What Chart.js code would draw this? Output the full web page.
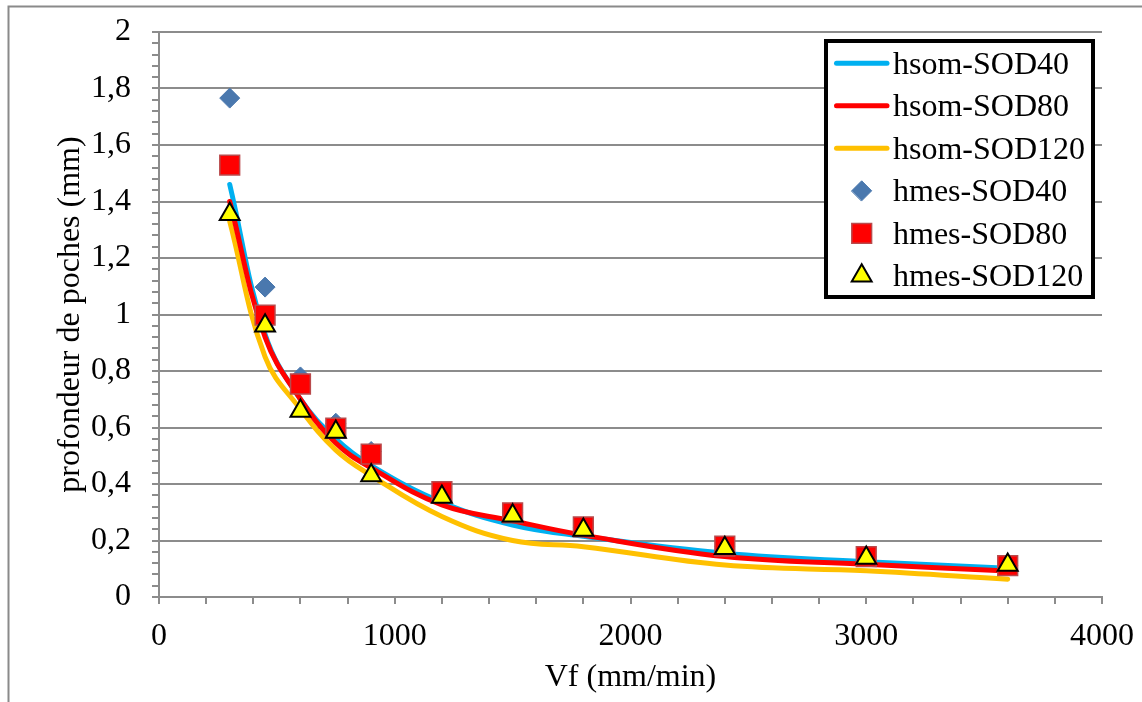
<!DOCTYPE html>
<html>
<head>
<meta charset="utf-8">
<script src="https://cdn.jsdelivr.net/npm/chart.js@4.4.1/dist/chart.umd.min.js"></script>
<style>
  html, body { margin: 0; padding: 0; background: #fff; }
  #wrap { position: relative; width: 1142px; height: 702px; overflow: hidden; }
  canvas { display: block; }
</style>
</head>
<body>
<div id="wrap"><canvas id="c" width="1142" height="702"></canvas></div>
<script>
// ---- data ----
const vf = [300, 450, 600, 750, 900, 1200, 1500, 1800, 2400, 3000, 3600];

const hsomSOD40  = [1.46, 0.93, 0.70, 0.56, 0.465, 0.335, 0.255, 0.215, 0.155, 0.125, 0.102];
const hsomSOD80  = [1.40, 0.92, 0.70, 0.545, 0.457, 0.326, 0.27, 0.219, 0.143, 0.116, 0.092];
const hsomSOD120 = [1.33, 0.85, 0.665, 0.52, 0.43, 0.285, 0.20, 0.178, 0.113, 0.093, 0.063];

const hmesSOD40  = [1.766, 1.097, 0.779, 0.615, 0.515, 0.372, 0.300, 0.245, 0.180, 0.142, 0.111];
const hmesSOD80  = [1.529, 0.998, 0.754, 0.598, 0.506, 0.373, 0.298, 0.248, 0.180, 0.143, 0.111];
const hmesSOD120 = [1.355, 0.960, 0.658, 0.584, 0.430, 0.354, 0.288, 0.237, 0.173, 0.138, 0.113];

const seriesLabels = ['hsom-SOD40', 'hsom-SOD80', 'hsom-SOD120', 'hmes-SOD40', 'hmes-SOD80', 'hmes-SOD120'];
const xTitle = 'Vf (mm/min)';
const yTitle = 'profondeur de poches (mm)';

const xMin = 0, xMax = 4000, xMajor = 1000, xMinor = 200;
const yMin = 0, yMax = 2, yMajor = 0.2, yMinor = 0.04;

function pts(ys) { return vf.map((x, i) => ({ x: x, y: ys[i] })); }
function isMult(v, step) { const r = v / step; return Math.abs(r - Math.round(r)) < 1e-6; }

const FONT = "'Liberation Serif', 'Times New Roman', serif";
const FS = 32;
const GRID = '#8c8c8c';

const datasets = [
  { label: seriesLabels[0], data: pts(hsomSOD40), showLine: true, borderColor: '#00b0f0', backgroundColor: '#00b0f0',
    borderWidth: 5, pointRadius: 0, tension: 0.4, order: 5, borderCapStyle: 'round', _kind: 'line' },
  { label: seriesLabels[1], data: pts(hsomSOD80), showLine: true, borderColor: '#ff0000', backgroundColor: '#ff0000',
    borderWidth: 5, pointRadius: 0, tension: 0.4, order: 3, borderCapStyle: 'round', _kind: 'line' },
  { label: seriesLabels[2], data: pts(hsomSOD120), showLine: true, borderColor: '#ffc000', backgroundColor: '#ffc000',
    borderWidth: 5, pointRadius: 0, tension: 0.4, order: 4, borderCapStyle: 'round', _kind: 'line' },
  { label: seriesLabels[3], data: pts(hmesSOD40), showLine: false, pointStyle: 'rectRot', pointRadius: 10,
    backgroundColor: '#4a78ae', borderColor: '#4a78ae', pointBorderWidth: 1, order: 2, _kind: 'point' },
  { label: seriesLabels[4], data: pts(hmesSOD80), showLine: false, pointStyle: 'rect', pointRadius: 14,
    backgroundColor: '#ff0000', borderColor: '#b94a4c', pointBorderWidth: 1.5, order: 1, _kind: 'point' },
  { label: seriesLabels[5], data: pts(hmesSOD120), showLine: false, pointStyle: 'triangle', pointRadius: 11.5,
    backgroundColor: '#ffff00', borderColor: '#000000', pointBorderWidth: 2, order: 0, _kind: 'point' }
];

// outer frame of the chart object
const framePlugin = {
  id: 'frame',
  beforeDraw(chart) {
    const ctx = chart.ctx;
    ctx.save();
    ctx.fillStyle = '#fff';
    ctx.fillRect(0, 0, chart.width, chart.height);
    ctx.strokeStyle = '#8a8a8a';
    ctx.lineWidth = 2;
    ctx.strokeRect(8.5, 6.5, 1400, 1000);
    ctx.restore();
  }
};

// boxed legend inside the plot, built from the datasets
const boxLegend = {
  id: 'boxLegend',
  afterDraw(chart) {
    const ctx = chart.ctx;
    const bx = 826, by = 41, bw = 267, bh = 256;
    ctx.save();
    ctx.fillStyle = '#fff';
    ctx.fillRect(bx, by, bw, bh);
    ctx.lineWidth = 4;
    ctx.strokeStyle = '#000';
    ctx.strokeRect(bx, by, bw, bh);
    chart.data.datasets.forEach((ds, i) => {
      const cy = 63.3 + i * 42.5;
      if (ds._kind === 'line') {
        ctx.beginPath();
        ctx.lineCap = 'round';
        ctx.lineWidth = ds.borderWidth;
        ctx.strokeStyle = ds.borderColor;
        ctx.moveTo(836.5, cy);
        ctx.lineTo(887, cy);
        ctx.stroke();
      } else {
        ctx.fillStyle = ds.backgroundColor;
        ctx.strokeStyle = ds.borderColor;
        ctx.lineWidth = ds.pointBorderWidth;
        Chart.helpers.drawPoint(ctx, { pointStyle: ds.pointStyle, radius: ds.pointRadius, borderWidth: ds.pointBorderWidth, rotation: 0 }, 861.7, cy);
      }
      ctx.fillStyle = '#000';
      ctx.font = FS + 'px ' + FONT;
      ctx.textBaseline = 'alphabetic';
      ctx.textAlign = 'left';
      ctx.fillText(ds.label, 893, cy + 10.2);
    });
    ctx.restore();
  }
};

new Chart(document.getElementById('c'), {
  type: 'scatter',
  data: { datasets: datasets },
  plugins: [framePlugin, boxLegend],
  options: {
    responsive: false,
    animation: false,
    devicePixelRatio: 1,
    layout: { padding: { top: 32, right: 40, bottom: 0, left: 0 } },
    plugins: { legend: { display: false }, tooltip: { enabled: false } },
    events: [],
    font: { family: FONT, size: FS },
    scales: {
      x: {
        type: 'linear', min: xMin, max: xMax,
        afterFit(s) { s.height = 105; s.paddingLeft = 0; s.paddingRight = 0; },
        ticks: {
          stepSize: xMinor, autoSkip: false, maxRotation: 0, padding: 13,
          color: '#000', font: { family: FONT, size: FS },
          callback: v => isMult(v, xMajor) ? String(v) : ''
        },
        grid: { drawOnChartArea: false, drawTicks: true, tickLength: 7, tickColor: GRID, tickWidth: 2, lineWidth: 2 },
        border: { color: GRID, width: 2 },
        title: { display: true, text: xTitle, color: '#000', font: { family: FONT, size: FS }, padding: { top: 0, bottom: 5 } }
      },
      y: {
        type: 'linear', min: yMin, max: yMax,
        afterFit(s) { s.width = 159; s.paddingTop = 0; s.paddingBottom = 0; },
        ticks: {
          stepSize: yMinor, autoSkip: false, padding: 21,
          color: '#000', font: { family: FONT, size: FS },
          callback: v => isMult(v, yMajor) ? String(Math.round(v * 10) / 10).replace('.', ',') : ''
        },
        grid: {
          drawOnChartArea: true, drawTicks: true, tickLength: 7, tickColor: GRID, tickWidth: 2, lineWidth: 2,
          color: c => (c.tick && isMult(c.tick.value, yMajor)) ? GRID : 'rgba(0,0,0,0)'
        },
        border: { color: GRID, width: 2 },
        title: { display: true, text: yTitle, color: '#000', font: { family: FONT, size: FS }, padding: { top: 51, bottom: 0 } }
      }
    }
  }
});
</script>
</body>
</html>
